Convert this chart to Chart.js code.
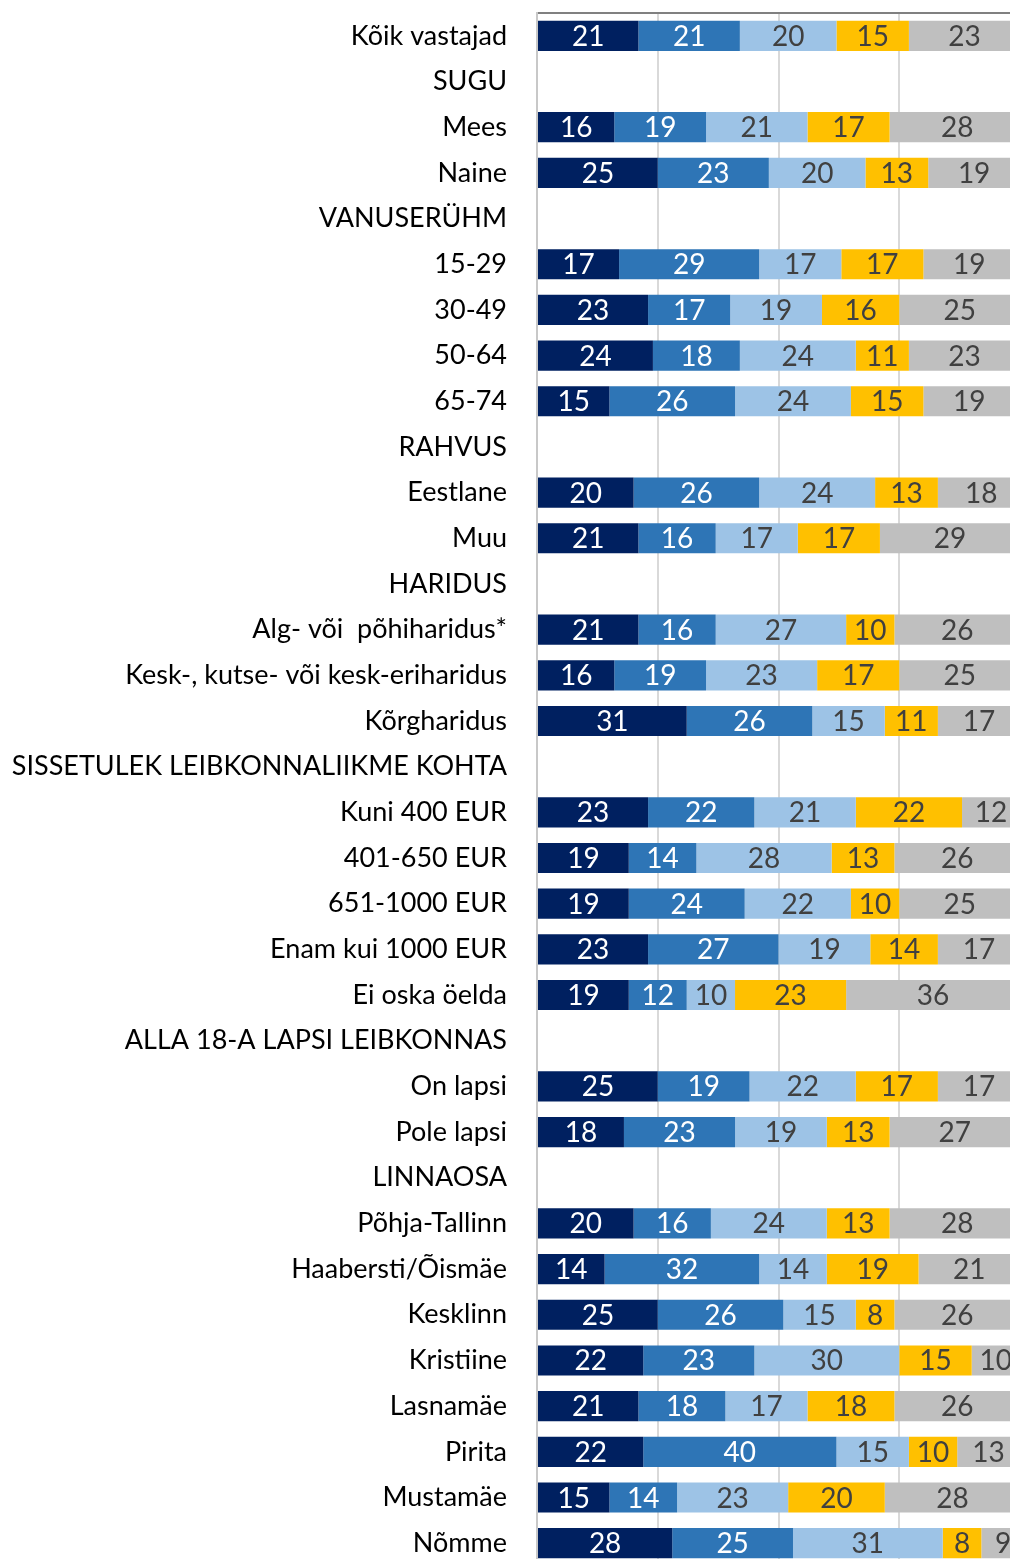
<!DOCTYPE html>
<html>
<head>
<meta charset="utf-8">
<script src="https://cdn.jsdelivr.net/npm/chart.js@4"></script>
<style>
  html, body { margin: 0; padding: 0; background: #fff; overflow: hidden; width: 1010px; height: 1559px; }
  canvas { display: block; }
</style>
</head>
<body>
<canvas id="c" width="1021" height="1566"></canvas>
<script>
const categories = [
  "Kõik vastajad", "SUGU", "Mees", "Naine", "VANUSERÜHM", "15-29", "30-49", "50-64", "65-74",
  "RAHVUS", "Eestlane", "Muu", "HARIDUS", "Alg- või  põhiharidus*", "Kesk-, kutse- või kesk-eriharidus",
  "Kõrgharidus", "SISSETULEK LEIBKONNALIIKME KOHTA", "Kuni 400 EUR", "401-650 EUR", "651-1000 EUR",
  "Enam kui 1000 EUR", "Ei oska öelda", "ALLA 18-A LAPSI LEIBKONNAS", "On lapsi", "Pole lapsi",
  "LINNAOSA", "Põhja-Tallinn", "Haabersti/Õismäe", "Kesklinn", "Kristiine", "Lasnamäe", "Pirita",
  "Mustamäe", "Nõmme"
];
const series1 = [21,null,16,25,null,17,23,24,15,null,20,21,null,21,16,31,null,23,19,19,23,19,null,25,18,null,20,14,25,22,21,22,15,28];
const series2 = [21,null,19,23,null,29,17,18,26,null,26,16,null,16,19,26,null,22,14,24,27,12,null,19,23,null,16,32,26,23,18,40,14,25];
const series3 = [20,null,21,20,null,17,19,24,24,null,24,17,null,27,23,15,null,21,28,22,19,10,null,22,19,null,24,14,15,30,17,15,23,31];
const series4 = [15,null,17,13,null,17,16,11,15,null,13,17,null,10,17,11,null,22,13,10,14,23,null,17,13,null,13,19,8,15,18,10,20,8];
const series5 = [23,null,28,19,null,19,25,23,19,null,18,29,null,26,25,17,null,12,26,25,17,36,null,17,27,null,28,21,26,10,26,13,28,9];
const xTicks = [0, 25, 50, 75, 100];

const FONT = "Lato, 'Open Sans', sans-serif";
const AXIS_FSIZE = 27;
const LABEL_FSIZE = 28;

const colors = ["#002060", "#2E75B6", "#9DC3E6", "#FFC000", "#BFBFBF"];
const labelColors = ["#ffffff", "#ffffff", "#404040", "#404040", "#404040"];
const allSeries = [series1, series2, series3, series4, series5];

const labelPlugin = {
  id: 'segLabels',
  afterDatasetsDraw(chart) {
    const ctx = chart.ctx;
    ctx.save();
    ctx.font = LABEL_FSIZE + "px " + FONT;
    ctx.textAlign = "center";
    ctx.textBaseline = "middle";
    chart.data.datasets.forEach((ds, di) => {
      const meta = chart.getDatasetMeta(di);
      meta.data.forEach((bar, i) => {
        const v = ds.data[i];
        if (v === null || v === undefined) return;
        const p = bar.getProps(['x', 'y', 'base'], true);
        const cx = (p.x + p.base) / 2;
        ctx.fillStyle = labelColors[di];
        ctx.fillText(String(v), cx, p.y + 1);
      });
    });
    ctx.restore();
  }
};

new Chart(document.getElementById('c'), {
  type: 'bar',
  data: {
    labels: categories,
    datasets: allSeries.map((s, i) => ({
      label: 'S' + (i + 1),
      data: s,
      backgroundColor: colors[i],
      borderWidth: 0,
      categoryPercentage: 1,
      barPercentage: 0.66
    }))
  },
  options: {
    indexAxis: 'y',
    responsive: false,
    animation: false,
    devicePixelRatio: 1,
    layout: { padding: { top: 13, right: 1, bottom: 0, left: 0 } },
    plugins: { legend: { display: false }, tooltip: { enabled: false } },
    scales: {
      x: {
        position: 'top',
        stacked: true,
        min: 0,
        max: 100,
        afterBuildTicks(scale) { scale.ticks = xTicks.map(v => ({ value: v })); },
        afterFit(scale) { scale.height = 0; scale.paddingLeft = 0; scale.paddingRight = 0; },
        ticks: { display: false },
        grid: { color: '#d9d9d9', lineWidth: 2, drawTicks: false },
        border: { display: true, color: '#808080', width: 2 }
      },
      y: {
        stacked: true,
        afterFit(scale) { scale.width = 537; scale.paddingTop = 0; scale.paddingBottom = 0; },
        grid: { display: false, drawTicks: false },
        border: { display: true, color: '#c8c8c8', width: 2 },
        ticks: {
          padding: 30,
          color: '#000000',
          font: { family: FONT, size: AXIS_FSIZE },
          autoSkip: false
        }
      }
    }
  },
  plugins: [labelPlugin]
});
</script>
</body>
</html>
